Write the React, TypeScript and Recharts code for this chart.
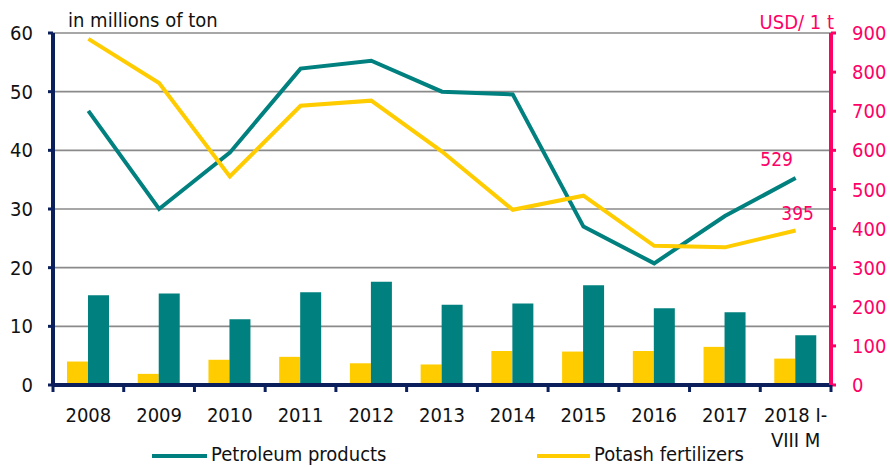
import React from 'react';
import { ComposedChart, Bar, Line, XAxis, YAxis, CartesianGrid, LabelList } from 'recharts';

const years = ['2008', '2009', '2010', '2011', '2012', '2013', '2014', '2015', '2016', '2017', '2018 I-\nVIII M'];
const potashVolume = [4.0, 1.9, 4.3, 4.8, 3.7, 3.5, 5.8, 5.7, 5.8, 6.5, 4.5];
const petroleumVolume = [15.3, 15.6, 11.2, 15.8, 17.6, 13.7, 13.9, 17.0, 13.1, 12.4, 8.5];
const petroleumPrice = [701, 450, 594, 809, 829, 750, 743, 405, 311, 432, 529];
const potashPrice = [885, 772, 533, 714, 727, 597, 448, 484, 356, 352, 395];
const leftTicks = [0, 10, 20, 30, 40, 50, 60];
const rightTicks = [0, 100, 200, 300, 400, 500, 600, 700, 800, 900];

const data = years.map((year, i) => ({
  year,
  potashVolume: potashVolume[i],
  petroleumVolume: petroleumVolume[i],
  petroleumPrice: petroleumPrice[i],
  potashPrice: potashPrice[i],
}));

const TEAL = '#00807E';
const YELLOW = '#FFCC00';
const PINK = '#FF0066';
const NAVY = '#0A1F5C';
const FONT = '"DejaVu Sans Condensed", "DejaVu Sans", sans-serif';
const TEXT = '#111111';
const LAST = years.length - 1;

const XTick = (props: any) => {
  const { x, y, payload, index } = props;
  const half = payload && payload.offset ? payload.offset : 35.4;
  const lines = String(payload.value).split('\n');
  return (
    <g>
      <line x1={x - half} x2={x - half} y1={y} y2={y + 7} stroke={NAVY} strokeWidth={3} />
      {index === LAST ? (
        <line x1={x + half} x2={x + half} y1={y} y2={y + 7} stroke={NAVY} strokeWidth={3} />
      ) : null}
      <text x={x} y={y + 37} textAnchor="middle" fontFamily={FONT} fontSize={20} fill={TEXT}>
        {lines.map((l, i) => (
          <tspan key={i} x={x} dy={i === 0 ? 0 : 25}>
            {l}
          </tspan>
        ))}
      </text>
    </g>
  );
};

const makeLabel = (dx: number, dy: number) => (props: any) => {
  const { index, value } = props;
  const x = props.x ?? props.viewBox?.x;
  const y = props.y ?? props.viewBox?.y;
  if (index !== LAST) return <g />;
  return (
    <text x={x + dx} y={y + dy} textAnchor="middle" fontFamily={FONT} fontSize={19} fill={PINK}>
      {value}
    </text>
  );
};

export default function App() {
  return (
    <div style={{ position: 'absolute', left: 0, top: 0, width: 890, height: 467, background: '#fff', fontFamily: FONT }}>
      <ComposedChart
        width={890}
        height={467}
        data={data}
        margin={{ top: 33, right: 0, bottom: 0, left: 0 }}
        barGap={0}
      >
        <CartesianGrid yAxisId="left" vertical={false} stroke="#8a8a8a" strokeWidth={1.6} />
        <XAxis
          dataKey="year"
          height={82}
          interval={0}
          axisLine={{ stroke: NAVY, strokeWidth: 4 }}
          tickLine={false}
          tickSize={0}
          tickMargin={0}
          tick={<XTick />}
        />
        <YAxis
          yAxisId="left"
          width={53}
          domain={[0, 60]}
          ticks={leftTicks}
          interval={0}
          axisLine={{ stroke: NAVY, strokeWidth: 4 }}
          tickLine={{ stroke: NAVY, strokeWidth: 3 }}
          tickSize={5}
          tickMargin={15}
          tick={{ fill: TEXT, fontSize: 20, fontFamily: FONT }}
        />
        <YAxis
          yAxisId="right"
          orientation="right"
          width={59}
          domain={[0, 900]}
          ticks={rightTicks}
          interval={0}
          axisLine={{ stroke: PINK, strokeWidth: 4 }}
          tickLine={{ stroke: PINK, strokeWidth: 3 }}
          tickSize={5}
          tickMargin={16}
          tick={{ fill: PINK, fontSize: 20, fontFamily: FONT }}
        />
        <Bar yAxisId="left" dataKey="potashVolume" fill={YELLOW} barSize={21} isAnimationActive={false} />
        <Bar yAxisId="left" dataKey="petroleumVolume" fill={TEAL} barSize={21} isAnimationActive={false} />
        <Line
          yAxisId="right"
          type="linear"
          dataKey="petroleumPrice"
          stroke={TEAL}
          strokeWidth={4}
          dot={false}
          isAnimationActive={false}
        >
          <LabelList dataKey="petroleumPrice" content={makeLabel(-19, -12)} />
        </Line>
        <Line
          yAxisId="right"
          type="linear"
          dataKey="potashPrice"
          stroke={YELLOW}
          strokeWidth={4}
          dot={false}
          isAnimationActive={false}
        >
          <LabelList dataKey="potashPrice" content={makeLabel(2, -11)} />
        </Line>
      </ComposedChart>
      <svg
        width={890}
        height={467}
        style={{ position: 'absolute', left: 0, top: 0, pointerEvents: 'none' }}
      >
        <text x={68} y={27} fontFamily={FONT} fontSize={20} fill={TEXT}>
          in millions of ton
        </text>
        <text x={834} y={29} textAnchor="end" fontFamily={FONT} fontSize={20} fill={PINK}>
          USD/ 1 t
        </text>
        <line x1={152} x2={207} y1={456} y2={456} stroke={TEAL} strokeWidth={4} />
        <text x={211} y={461} fontFamily={FONT} fontSize={20} fill={TEXT}>
          Petroleum products
        </text>
        <line x1={537} x2={590} y1={456} y2={456} stroke={YELLOW} strokeWidth={4} />
        <text x={594} y={461} fontFamily={FONT} fontSize={20} fill={TEXT}>
          Potash fertilizers
        </text>
      </svg>
    </div>
  );
}
